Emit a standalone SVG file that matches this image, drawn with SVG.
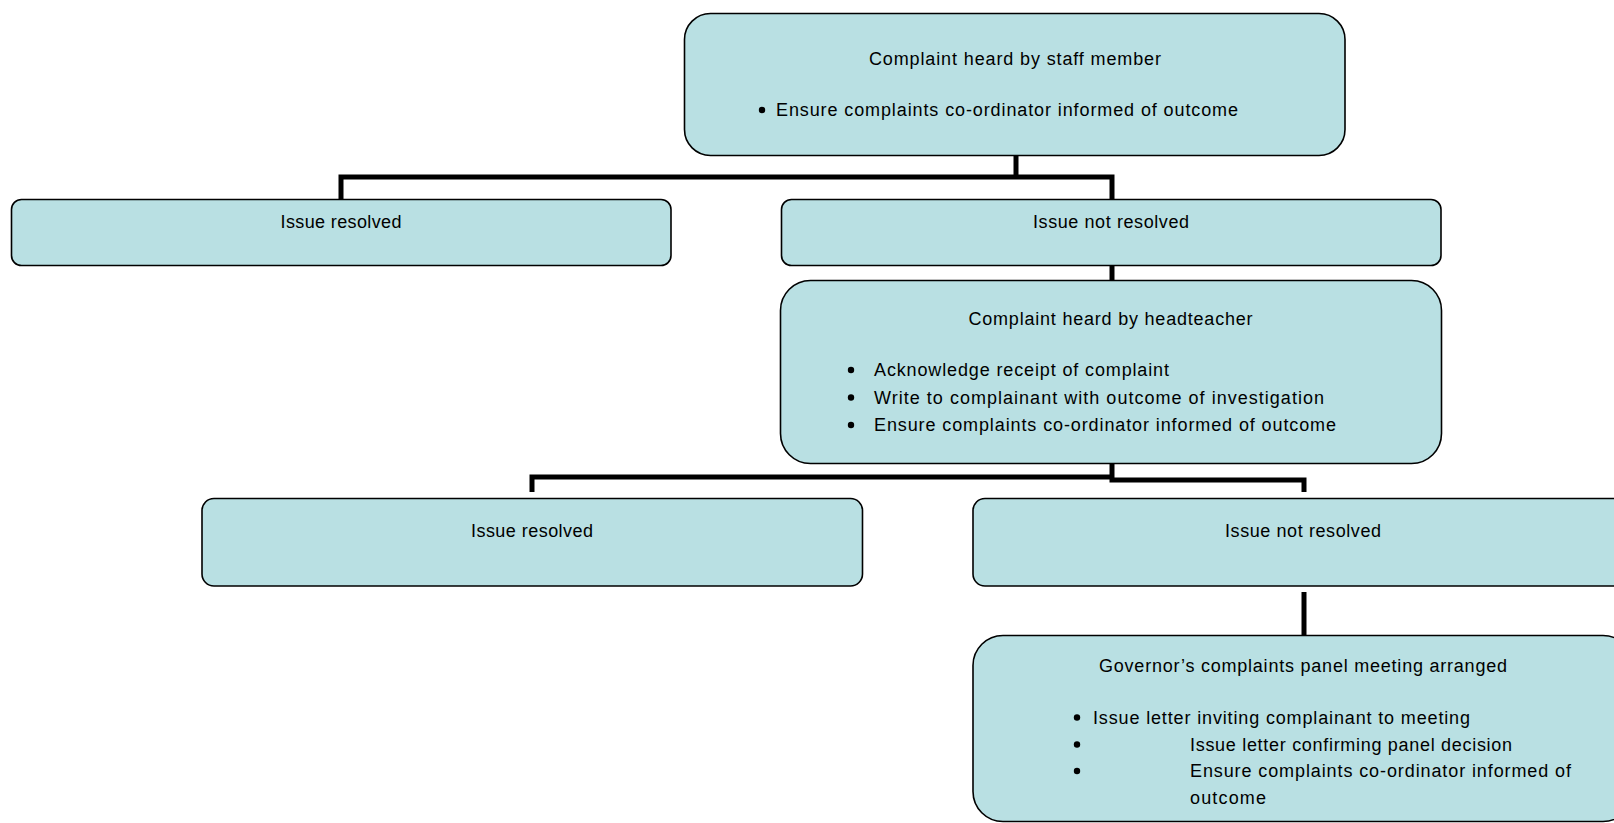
<svg xmlns="http://www.w3.org/2000/svg" width="1614" height="823" viewBox="0 0 1614 823">
<style>
.box{fill:#b9e0e3;stroke:#000;stroke-width:1.6}
.t{font-family:"Liberation Sans",Arial,sans-serif;font-size:18px;fill:#000}
.c{text-anchor:middle}
.conn{fill:none;stroke:#000;stroke-width:5}
.dot{fill:#000}
</style>
<rect width="1614" height="823" fill="#fff"/>
<g id="connectors" class="conn">
<path d="M1016,155 V177"/>
<path d="M341,199 V177 H1112 V199"/>
<path d="M1112,265 V281"/>
<path d="M1112,463 V477"/>
<path d="M532,492 V477 H1112"/>
<path d="M1112,477 V480 H1304 V492"/>
<path d="M1304,592 V636"/>
</g>
<g id="n1">
<rect class="box" x="684.5" y="13.5" width="660.5" height="142" rx="26"/>
<text class="t c" x="1015" y="64.5" textLength="292">Complaint heard by staff member</text>
<circle class="dot" cx="762" cy="110" r="3.2"/>
<text class="t" x="776" y="116" textLength="462">Ensure complaints co-ordinator informed of outcome</text>
</g>
<g id="n2">
<rect class="box" x="11.5" y="199.5" width="659.5" height="66" rx="10"/>
<text class="t c" x="341" y="228" textLength="121">Issue resolved</text>
</g>
<g id="n3">
<rect class="box" x="781.5" y="199.5" width="659.5" height="66" rx="10"/>
<text class="t c" x="1111" y="228" textLength="156">Issue not resolved</text>
</g>
<g id="n4">
<rect class="box" x="780.5" y="280.5" width="661" height="183" rx="30"/>
<text class="t c" x="1110.5" y="325" textLength="284">Complaint heard by headteacher</text>
<circle class="dot" cx="851" cy="370" r="3.2"/>
<text class="t" x="874" y="376" textLength="295">Acknowledge receipt of complaint</text>
<circle class="dot" cx="851" cy="397.5" r="3.2"/>
<text class="t" x="874" y="403.5" textLength="450">Write to complainant with outcome of investigation</text>
<circle class="dot" cx="851" cy="425" r="3.2"/>
<text class="t" x="874" y="431" textLength="462">Ensure complaints co-ordinator informed of outcome</text>
</g>
<g id="n5">
<rect class="box" x="202" y="498.5" width="660.5" height="87.5" rx="12"/>
<text class="t c" x="532" y="537" textLength="122">Issue resolved</text>
</g>
<g id="n6">
<rect class="box" x="973" y="498.5" width="660" height="87.5" rx="12"/>
<text class="t c" x="1303" y="537" textLength="156">Issue not resolved</text>
</g>
<g id="n7">
<rect class="box" x="973" y="635.5" width="660" height="186" rx="30"/>
<text class="t c" x="1303" y="672" textLength="408">Governor’s complaints panel meeting arranged</text>
<circle class="dot" cx="1077" cy="717.5" r="3.2"/>
<text class="t" x="1093" y="723.5" textLength="377">Issue letter inviting complainant to meeting</text>
<circle class="dot" cx="1077" cy="744.5" r="3.2"/>
<text class="t" x="1190" y="750.5" textLength="322">Issue letter confirming panel decision</text>
<circle class="dot" cx="1077" cy="771" r="3.2"/>
<text class="t" x="1190" y="777" textLength="381">Ensure complaints co-ordinator informed of</text>
<text class="t" x="1190" y="804" textLength="76">outcome</text>
</g>
</svg>
